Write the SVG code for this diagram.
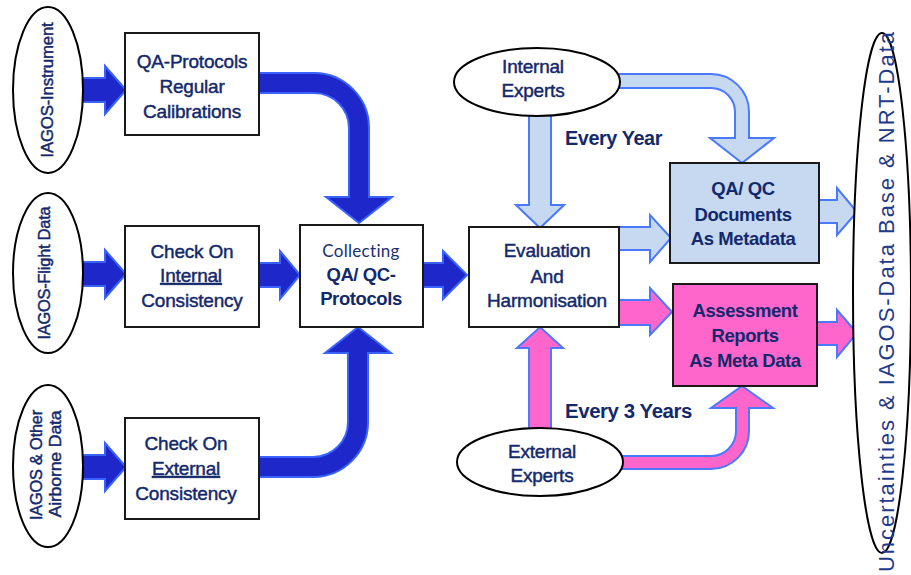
<svg xmlns="http://www.w3.org/2000/svg" width="911" height="575" viewBox="0 0 911 575">
<style>
.t{font-family:"Liberation Sans",Arial,sans-serif;fill:#13296b;font-size:19px;text-anchor:middle;letter-spacing:-0.2px;stroke:#13296b;stroke-width:0.45px}
.b{font-weight:bold;stroke-width:0;font-size:18.5px;letter-spacing:-0.4px}
.box{fill:#fff;stroke:#1a1a1a;stroke-width:2}
.ell{fill:#fff;stroke:#000;stroke-width:2}
.dk{fill:#1e27c9;stroke:#3a62ff;stroke-width:2;stroke-linejoin:miter}
.lb{fill:#c6d9f1;stroke:#4a78ff;stroke-width:2}
.pk{fill:#ff66cc;stroke:#4a78ff;stroke-width:2}
</style>
<rect width="911" height="575" fill="#fff"/>
<g id="connectors">
  <path class="dk" d="M75,78 H105 V66 L126,90 L105,114 V102 H75 Z"/>
  <path class="dk" d="M75,262 H105 V250 L126,274 L105,298 V286 H75 Z"/>
  <path class="dk" d="M75,455 H105 V443 L126,467 L105,491 V479 H75 Z"/>
  <path class="dk" d="M259,73 H314 A55,55 0 0 1 369,128 V197 H392 L359,223 L326,197 H349 V128 A35,35 0 0 0 314,93 H259 Z"/>
  <path class="dk" d="M259,263 H280 V251 L300,275 L280,299 V287 H259 Z"/>
  <path class="dk" d="M259,457 H313 A35,35 0 0 0 348,422 V353 H325 L358,327 L391,353 H368 V422 A55,55 0 0 1 313,477 H259 Z"/>
  <path class="dk" d="M423,263 H443 V251 L467,275 L443,299 V287 H423 Z"/>
  <path class="lb" d="M529,110 H551 V205 H564 L540,228 L516,205 H529 Z"/>
  <path class="lb" d="M610,74 H711 A38,38 0 0 1 749,112 V138 H774 L742,163 L710,138 H735 V112 A24,24 0 0 0 711,88 H610 Z"/>
  <path class="lb" d="M619,227 H650 V215 L671,238 L650,262 V250 H619 Z"/>
  <path class="lb" d="M819,200 H837 V188 L857,212 L837,235 V223 H819 Z"/>
  <path class="pk" d="M619,300 H650 V288 L672,312 L650,335 V325 H619 Z"/>
  <path class="pk" d="M817,322 H837 V310 L857,333 L837,357 V345 H817 Z"/>
  <path class="pk" d="M529,440 V348 H517 L540,327 L563,348 H551 V440 Z"/>
  <path class="pk" d="M612,456 H711 A25,25 0 0 0 736,431 V408 H711 L742,386 L773,408 H749 V431 A38,38 0 0 1 711,469 H612 Z"/>
</g>
<g id="ell-instrument">
  <ellipse class="ell" cx="48" cy="90" rx="35" ry="83"/>
  <text class="t" transform="translate(53,90) rotate(-90)" textLength="135" lengthAdjust="spacingAndGlyphs" style="font-size:17px">IAGOS-Instrument</text>
</g>
<g id="ell-flight">
  <ellipse class="ell" cx="48" cy="273" rx="35" ry="80"/>
  <text class="t" transform="translate(50,273) rotate(-90)" textLength="133" lengthAdjust="spacingAndGlyphs" style="font-size:17px">IAGOS-Flight Data</text>
</g>
<g id="ell-other">
  <ellipse class="ell" cx="48" cy="466" rx="35" ry="81"/>
  <text class="t" transform="translate(42,465) rotate(-90)" textLength="110" lengthAdjust="spacingAndGlyphs" style="font-size:17px">IAGOS &amp; Other</text>
  <text class="t" transform="translate(61,464) rotate(-90)" textLength="107" lengthAdjust="spacingAndGlyphs" style="font-size:17px">Airborne Data</text>
</g>
<g id="box-qa-protocols">
  <rect class="box" x="125" y="33" width="134" height="102"/>
  <text class="t" x="192" y="68">QA-Protocols</text>
  <text class="t" x="192" y="93">Regular</text>
  <text class="t" x="192" y="118">Calibrations</text>
</g>
<g id="box-internal">
  <rect class="box" x="125" y="226" width="134" height="101"/>
  <text class="t" x="192" y="258">Check On</text>
  <text class="t" x="191" y="282" text-decoration="underline">Internal</text>
  <text class="t" x="192" y="307">Consistency</text>
</g>
<g id="box-external">
  <rect class="box" x="125" y="418" width="134" height="101"/>
  <text class="t" x="186" y="450">Check On</text>
  <text class="t" x="186" y="475" text-decoration="underline">External</text>
  <text class="t" x="186" y="500">Consistency</text>
</g>
<g id="box-collecting">
  <rect class="box" x="300" y="225" width="123" height="102"/>
  <text class="t" x="361" y="257" style="font-family:Lato,'Open Sans',sans-serif;font-size:17px;letter-spacing:0.3px;fill:#1a3070;stroke-width:0">Collecting</text>
  <text class="t b" x="361" y="281">QA/ QC-</text>
  <text class="t b" x="361" y="305">Protocols</text>
</g>
<g id="box-evaluation">
  <rect class="box" x="469" y="227" width="150" height="100"/>
  <text class="t" x="547" y="257">Evaluation</text>
  <text class="t" x="547" y="283">And</text>
  <text class="t" x="547" y="307">Harmonisation</text>
</g>
<g id="ell-internal">
  <ellipse class="ell" cx="537" cy="82" rx="83" ry="34"/>
  <text class="t" x="533" y="73">Internal</text>
  <text class="t" x="533" y="97">Experts</text>
</g>
<g id="ell-external">
  <ellipse class="ell" cx="540" cy="462" rx="83" ry="34"/>
  <text class="t" x="542" y="458">External</text>
  <text class="t" x="542" y="482">Experts</text>
</g>
<g id="box-qaqc-docs">
  <rect x="670" y="163" width="149" height="100" fill="#c6d9f1" stroke="#1a1a1a" stroke-width="2"/>
  <text class="t b" x="743" y="195">QA/ QC</text>
  <text class="t b" x="743" y="221">Documents</text>
  <text class="t b" x="743" y="245">As Metadata</text>
</g>
<g id="box-assessment">
  <rect x="673" y="284" width="144" height="102" fill="#ff66cc" stroke="#1a1a1a" stroke-width="2"/>
  <text class="t b" x="745" y="317">Assessment</text>
  <text class="t b" x="745" y="342">Reports</text>
  <text class="t b" x="745" y="367">As Meta Data</text>
</g>
<g id="labels">
  <text class="t b" x="565" y="145" style="text-anchor:start;font-size:20px" textLength="97" lengthAdjust="spacingAndGlyphs">Every Year</text>
  <text class="t b" x="565" y="418" style="text-anchor:start;font-size:20px" textLength="127" lengthAdjust="spacingAndGlyphs">Every 3 Years</text>
</g>
<g id="ell-database">
  <ellipse class="ell" cx="882" cy="293" rx="29" ry="260"/>
  <text class="t" transform="translate(894,572) rotate(-90)" style="text-anchor:start;font-size:22px;letter-spacing:0;fill:#1f3a8a;stroke-width:0" textLength="540" lengthAdjust="spacing">Uncertainties &amp; IAGOS-Data Base &amp; NRT-Data</text>
</g>
</svg>
